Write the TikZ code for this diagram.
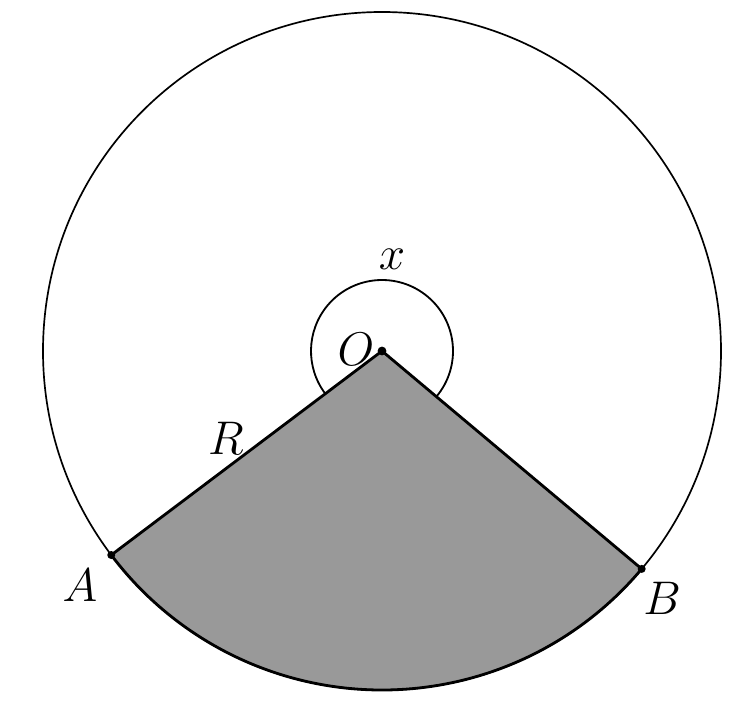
\documentclass[tikz,border=0pt]{standalone}
\begin{document}
\begin{tikzpicture}[lbl/.style={font=\Huge, scale=1.35}]
    \useasboundingbox (-9.55,-9.175) rectangle (9.275,8.775);
    \coordinate (O) at (0,0);
    \coordinate (A) at (217:8.475);
    \coordinate (B) at (320:8.475);
    \fill [black!40] (O) -- (A) arc [start angle=217, end angle=320, radius=8.475] -- cycle;
    \draw [line width=1.2pt] (O) circle (8.475);
    \draw [line width=2pt, line join=round] (A) -- (O) -- (B)
        arc [start angle=320, end angle=217, radius=8.475];
    \draw [line width=1.3pt] (320:1.775) arc [start angle=320, end angle=577, radius=1.775];
    \fill (O) circle (0.11);
    \fill (A) circle (0.1);
    \fill (B) circle (0.1);
    \node [lbl] (labO) at (-0.65,0.05) {$O$};
    \node [lbl] (labx) at (0.25,2.3) {$x$};
    \node [lbl] (labR) at (-3.9,-2.175) {$R$};
    \node [lbl] (labA) at (-7.55,-5.85) {$A$};
    \node [lbl] (labB) at (7.0,-6.175) {$B$};
\end{tikzpicture}
\end{document}
